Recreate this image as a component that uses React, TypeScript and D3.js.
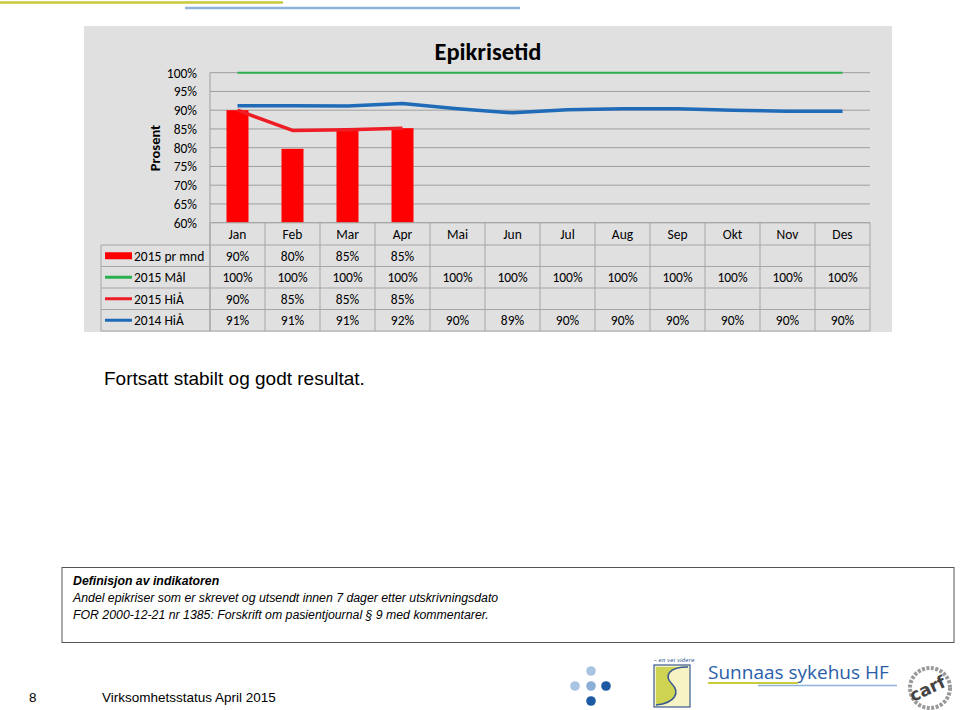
import React from "react";
import * as d3 from "d3";

const months = ["Jan", "Feb", "Mar", "Apr", "Mai", "Jun", "Jul", "Aug", "Sep", "Okt", "Nov", "Des"];
const prMnd2015 = [0.9, 0.797, 0.85, 0.852];
const maal2015 = [1, 1, 1, 1, 1, 1, 1, 1, 1, 1, 1, 1];
const hia2015 = [0.9, 0.846, 0.848, 0.852];
const hia2014 = [0.912, 0.912, 0.911, 0.918, 0.904, 0.893, 0.901, 0.904, 0.904, 0.9, 0.897, 0.897];
const yTicks = [0.6, 0.65, 0.7, 0.75, 0.8, 0.85, 0.9, 0.95, 1.0];
const seriesLabels = ["2015 pr mnd", "2015 Mål", "2015 HiÅ", "2014 HiÅ"];

const CHART_FONT = "Carlito, Calibri, Lato, sans-serif";
const ARIAL = "'Liberation Sans', Arial, sans-serif";
const FS = 13.5;

export default function App() {
  const W = 960, H = 710;
  const x0 = 210, x1 = 870;
  const x = d3.scaleBand<string>().domain(months).range([x0, x1]).paddingInner(0.6).paddingOuter(0.3);
  const step = x.step();
  const cx = (m: string) => (x(m) as number) + x.bandwidth() / 2;
  const y = d3.scaleLinear().domain([0.6, 1.0]).range([222.7, 72.7]);
  const pct = d3.format(".0%");

  const line = d3.line<number>().x((_, i) => cx(months[i])).y((v) => y(v));

  const colors = { bar: "#ff0000", maal: "#2bb04f", hia15: "#ee1c24", hia14: "#1f6bb8" };
  const gridColor = "#9e9e9e";
  const tableColor = "#a6a6a6";

  const headerTop = y(0.6);
  const headerBottom = 245;
  const rowH = 21.5;
  const rowsData: (number[] | null)[] = [prMnd2015, maal2015, hia2015, hia2014];
  const tableBottom = headerBottom + rowH * 4;
  const cellBoundaries = d3.range(13).map((i) => x0 + i * step);

  return (
    <svg width={W} height={H} style={{ position: "absolute", left: 0, top: 0, background: "#fff" }}>
      {/* decorative top lines */}
      <line x1={0} x2={283} y1={2.5} y2={2.5} stroke="#c8c83c" strokeWidth={2.5} />
      <line x1={185} x2={520} y1={8} y2={8} stroke="#8fb3d9" strokeWidth={2.5} />

      {/* chart background */}
      <rect x={84} y={26} width={808} height={306} fill="#e0e0e0" />

      {/* title */}
      <text x={488} y={59.5} textAnchor="middle" fontFamily={CHART_FONT} fontWeight="bold" fontSize={24.5} fill="#000">
        Epikrisetid
      </text>

      {/* gridlines */}
      {yTicks.map((t) => (
        <line key={t} x1={x0} x2={x1} y1={y(t)} y2={y(t)} stroke={gridColor} strokeWidth={1} />
      ))}
      <line x1={x0} x2={x0} y1={y(1.0)} y2={tableBottom} stroke={gridColor} strokeWidth={1} />

      {/* y tick labels */}
      {yTicks.map((t) => (
        <text key={t} x={197} y={y(t) + 4.8} textAnchor="end" fontFamily={CHART_FONT} fontSize={FS} fill="#000">
          {pct(t)}
        </text>
      ))}

      {/* axis title */}
      <text
        transform={`translate(160,148) rotate(-90)`}
        textAnchor="middle"
        fontFamily={CHART_FONT}
        fontWeight="bold"
        fontSize={14.5}
        fill="#000"
      >
        Prosent
      </text>

      {/* bars */}
      {prMnd2015.map((v, i) => (
        <rect key={i} x={x(months[i])} y={y(v)} width={x.bandwidth()} height={y(0.6) - y(v)} fill={colors.bar} />
      ))}

      {/* lines */}
      <path d={line(maal2015) || ""} fill="none" stroke={colors.maal} strokeWidth={2} />
      <path d={line(hia2015) || ""} fill="none" stroke={colors.hia15} strokeWidth={3.5} strokeLinejoin="round" />
      <path d={line(hia2014) || ""} fill="none" stroke={colors.hia14} strokeWidth={3.5} strokeLinejoin="round" />

      {/* data table */}
      <g>
        <line x1={x0} x2={x1} y1={headerTop} y2={headerTop} stroke={tableColor} />
        {d3.range(5).map((r) => (
          <line
            key={r}
            x1={101}
            x2={x1}
            y1={headerBottom + r * rowH}
            y2={headerBottom + r * rowH}
            stroke={tableColor}
          />
        ))}
        {cellBoundaries.map((bx, i) => (
          <line key={i} x1={bx} x2={bx} y1={headerTop} y2={tableBottom} stroke={tableColor} />
        ))}
        <line x1={101} x2={101} y1={headerBottom} y2={tableBottom} stroke={tableColor} />

        {months.map((m) => (
          <text key={m} x={cx(m)} y={238.5} textAnchor="middle" fontFamily={CHART_FONT} fontSize={FS} fill="#000">
            {m}
          </text>
        ))}

        {rowsData.map((vals, r) => {
          const ty = headerBottom + r * rowH + rowH / 2;
          return (
            <g key={r}>
              {vals &&
                vals.map((v, i) => (
                  <text
                    key={i}
                    x={cx(months[i])}
                    y={ty + 4.8}
                    textAnchor="middle"
                    fontFamily={CHART_FONT}
                    fontSize={FS}
                    fill="#000"
                  >
                    {pct(v)}
                  </text>
                ))}
              {r === 0 ? (
                <rect x={105} y={ty - 3.5} width={27} height={7} fill={colors.bar} />
              ) : (
                <line
                  x1={105}
                  x2={132}
                  y1={ty}
                  y2={ty}
                  stroke={r === 1 ? colors.maal : r === 2 ? colors.hia15 : colors.hia14}
                  strokeWidth={3}
                />
              )}
              <text x={134} y={ty + 4.8} fontFamily={CHART_FONT} fontSize={FS} fill="#000">
                {seriesLabels[r]}
              </text>
            </g>
          );
        })}
      </g>

      {/* comment */}
      <text x={104} y={385} fontFamily={ARIAL} fontSize={19} fill="#000">
        Fortsatt stabilt og godt resultat.
      </text>

      {/* definition box */}
      <rect x={62} y={567.5} width={892} height={75} fill="#fff" stroke="#555" strokeWidth={1} />
      <text x={73} y={585} fontFamily={ARIAL} fontSize={12.3} fontStyle="italic" fontWeight="bold" fill="#000">
        Definisjon av indikatoren
      </text>
      <text x={73} y={602} fontFamily={ARIAL} fontSize={12.3} fontStyle="italic" fill="#000">
        Andel epikriser som er skrevet og utsendt innen 7 dager etter utskrivningsdato
      </text>
      <text x={73} y={619} fontFamily={ARIAL} fontSize={12.3} fontStyle="italic" fill="#000">
        FOR 2000-12-21 nr 1385: Forskrift om pasientjournal § 9 med kommentarer.
      </text>

      {/* footer */}
      <text x={29} y={702} fontFamily={ARIAL} fontSize={13.5} fill="#000">
        8
      </text>
      <text x={102} y={702} fontFamily={ARIAL} fontSize={13.5} fill="#000">
        Virksomhetsstatus April 2015
      </text>

      {/* dots logo */}
      <circle cx={591} cy={671} r={4.8} fill="#a9c3e3" />
      <circle cx={575} cy={686} r={4.8} fill="#a9c3e3" />
      <circle cx={591} cy={686} r={4.8} fill="#8cafd9" />
      <circle cx={606} cy={686} r={4.8} fill="#1d5aa3" />
      <circle cx={591} cy={701} r={4.8} fill="#1d5aa3" />

      {/* S logo */}
      <text x={654} y={662} fontFamily="'DejaVu Serif', serif" fontStyle="italic" fontSize={5.5} fill="#2a4f8f">
        – en vei videre
      </text>
      <rect x={654} y={665} width={36} height={42} fill="#f7f3c4" stroke="#3a5a92" strokeWidth={1.2} />
      <path d="M688,667 C668,667 664,676 672,684 C680,692 676,703 656,705 L656,667 Z" fill="#c9cf45" opacity={0.9} />
      <path d="M688,667 C668,667 664,676 672,684 C680,692 676,703 656,705" fill="none" stroke="#3a5a92" strokeWidth={1.5} />

      {/* Sunnaas text */}
      <text x={708} y={679} fontFamily="'Open Sans', sans-serif" fontSize={19} fill="#2b5ea8">
        Sunnaas sykehus HF
      </text>
      <line x1={708} x2={798} y1={683} y2={683} stroke="#c8cc3a" strokeWidth={2} />
      <line x1={758} x2={897} y1={685.5} y2={685.5} stroke="#8fb3d9" strokeWidth={1.5} />

      {/* carf logo */}
      <circle cx={930} cy={688} r={20} fill="none" stroke="#999" strokeWidth={4} strokeDasharray="3 1.5" />
      <text
        transform="translate(930,694) rotate(-25)"
        textAnchor="middle"
        fontFamily="'DejaVu Sans', sans-serif"
        fontWeight="bold"
        fontSize={17}
        fill="#444"
      >
        carf
      </text>
    </svg>
  );
}
